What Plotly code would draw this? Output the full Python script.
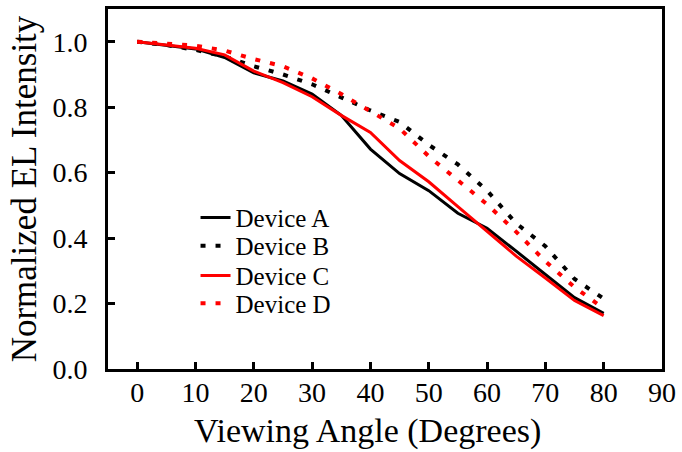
import plotly.graph_objects as go

# Viewing angle (degrees)
angles = [0, 5, 10, 15, 20, 25, 30, 35, 40, 45, 50, 55, 60, 65, 70, 75, 80]

# Normalized EL intensity for each device
device_a = [1.0, 0.99, 0.978, 0.952, 0.905, 0.88, 0.84, 0.775, 0.672, 0.597,
            0.545, 0.476, 0.43, 0.36, 0.29, 0.218, 0.17]
device_b = [1.0, 0.99, 0.975, 0.955, 0.925, 0.9, 0.87, 0.83, 0.79, 0.755,
            0.685, 0.625, 0.545, 0.445, 0.375, 0.275, 0.215]
device_c = [1.0, 0.99, 0.98, 0.96, 0.91, 0.875, 0.832, 0.775, 0.723, 0.637,
            0.572, 0.496, 0.421, 0.345, 0.278, 0.209, 0.163]
device_d = [1.0, 0.995, 0.988, 0.973, 0.947, 0.925, 0.888, 0.84, 0.787, 0.735,
            0.65, 0.578, 0.503, 0.419, 0.329, 0.25, 0.185]

x_ticks = [0, 10, 20, 30, 40, 50, 60, 70, 80, 90]
y_ticks = [0.0, 0.2, 0.4, 0.6, 0.8, 1.0]

FONT = "Liberation Serif, Times New Roman, serif"
DOT = "5px,10px"

# name, values, colour, dash, width, legend id
series = [
    ("Device A", device_a, "black", "solid", 3, "legend"),
    ("Device B", device_b, "black", DOT, 4, "legend2"),
    ("Device C", device_c, "#ff0000", "solid", 3, "legend3"),
    ("Device D", device_d, "#ff0000", DOT, 4, "legend4"),
]

fig = go.Figure()
for name, vals, color, dash, width, leg in series:
    fig.add_trace(go.Scatter(
        x=angles, y=vals, name=name, mode="lines",
        line=dict(color=color, dash=dash, width=width),
        legend=leg,
    ))

axis_common = dict(
    showline=True, linecolor="black", linewidth=3, mirror=True,
    ticks="inside", ticklen=7, tickwidth=3, tickcolor="black",
    showgrid=False, zeroline=False,
    tickfont=dict(family=FONT, size=28, color="black"),
)

# one legend box per entry, stacked in a tight column
legend_rows = [0.42, 0.342, 0.259, 0.182]
legend_style = dict(
    x=0.158, xanchor="left", yanchor="middle",
    bgcolor="rgba(0,0,0,0)", borderwidth=0,
    font=dict(family=FONT, size=25, color="black"),
)
legends = {}
for key, ypos in zip(["legend", "legend2", "legend3", "legend4"], legend_rows):
    legends[key] = dict(y=ypos, **legend_style)

fig.update_layout(
    width=682, height=452,
    margin=dict(l=108, r=17, t=6, b=83),
    paper_bgcolor="white", plot_bgcolor="white",
    font=dict(family=FONT, color="black"),
    xaxis=dict(
        range=[-5, 90], tickvals=x_ticks, ticktext=[str(v) for v in x_ticks],
        ticklabelstandoff=-4,
        **axis_common,
    ),
    yaxis=dict(
        range=[0, 1.1], tickvals=y_ticks, ticktext=[f"{v:.1f}" for v in y_ticks],
        title=dict(text="Normalized EL Intensity", font=dict(family=FONT, size=35), standoff=6),
        ticklabelstandoff=12,
        **axis_common,
    ),
    annotations=[dict(
        text="Viewing Angle (Degrees)", xref="paper", yref="paper",
        x=0.4686, y=-0.171, xanchor="center", yanchor="middle",
        showarrow=False, font=dict(family=FONT, size=34, color="black"),
    )],
    showlegend=True,
    **legends,
)

fig.write_html("out.html")
